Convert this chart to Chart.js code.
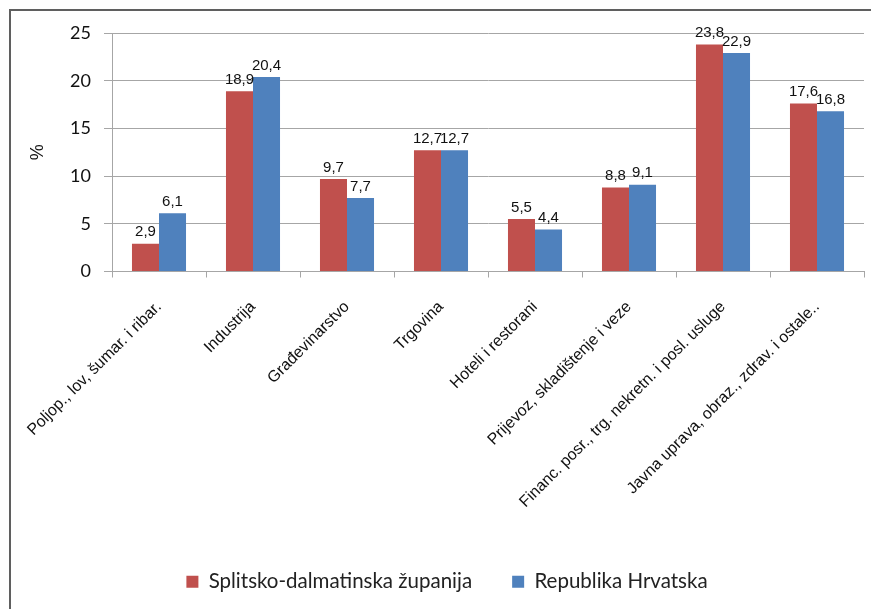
<!DOCTYPE html>
<html>
<head>
<meta charset="utf-8">
<script src="https://cdn.jsdelivr.net/npm/chart.js@4/dist/chart.umd.min.js"></script>
<style>
  body { margin: 0; background: #fff; }
  .frame { position: absolute; left: 9px; top: 9px; width: 880px; height: 620px;
           border-top: 2px solid #5f5f5f; border-left: 2px solid #5f5f5f; }
  #graf { position: absolute; left: 0; top: 0; }
</style>
</head>
<body>
<div class="frame"></div>
<canvas id="graf" width="871" height="609"></canvas>
<script>
const kategorije = ['Poljop., lov, šumar. i ribar.', 'Industrija', 'Građevinarstvo', 'Trgovina',
  'Hoteli i restorani', 'Prijevoz, skladištenje i veze', 'Financ. posr., trg. nekretn. i posl. usluge',
  'Javna uprava, obraz., zdrav. i ostale..']
const splitsko = [2.9, 18.9, 9.7, 12.7, 5.5, 8.8, 23.8, 17.6]
const hrvatska = [6.1, 20.4, 7.7, 12.7, 4.4, 9.1, 22.9, 16.8]
const yTicks = [0, 5, 10, 15, 20, 25]

const siva = '#a6a6a6'

// oznake vrijednosti iznad stupaca
const oznake = {
  id: 'oznake',
  afterDatasetsDraw(chart) {
    const ctx = chart.ctx
    ctx.save()
    ctx.font = '15px "Liberation Sans", Arial'
    ctx.fillStyle = '#111'
    ctx.textAlign = 'center'
    ctx.textBaseline = 'bottom'
    chart.data.datasets.forEach((ds, i) => {
      chart.getDatasetMeta(i).data.forEach((bar, j) => {
        ctx.fillText(ds.data[j].toFixed(1).replace('.', ','), bar.x, bar.y - 4)
      })
    })
    ctx.restore()
  }
}

new Chart(document.getElementById('graf'), {
  type: 'bar',
  data: {
    labels: kategorije,
    datasets: [{
      label: 'Splitsko-dalmatinska županija',
      data: splitsko,
      backgroundColor: '#c0504d'
    }, {
      label: 'Republika Hrvatska',
      data: hrvatska,
      backgroundColor: '#4f81bd'
    }]
  },
  options: {
    responsive: false,
    animation: false,
    categoryPercentage: 0.575,
    barPercentage: 1,
    layout: { padding: { left: 30, right: 7, top: 33, bottom: 7 } },
    plugins: {
      tooltip: { enabled: false },
      legend: {
        position: 'bottom',
        labels: {
          boxWidth: 12,
          boxHeight: 12,
          padding: 40,
          color: '#222',
          font: { family: 'Lato', size: 20.5 }
        }
      }
    },
    scales: {
      x: {
        grid: { drawOnChartArea: false, drawTicks: true, tickLength: 6, color: siva },
        border: { color: siva },
        ticks: {
          minRotation: 45, maxRotation: 45, autoSkip: false, padding: 20,
          color: '#111',
          font: { family: 'Liberation Sans', size: 16 }
        },
        afterFit: s => { s.height = 260 }
      },
      y: {
        min: 0, max: 25,
        afterBuildTicks: s => { s.ticks = yTicks.map(v => ({ value: v })) },
        grid: { color: siva, tickLength: 8 },
        border: { color: siva },
        ticks: { padding: 13, color: '#111', font: { family: 'Lato', size: 18 } },
        title: {
          display: true, text: '%', color: '#111',
          font: { family: 'Liberation Sans', size: 18 },
          padding: { top: -3, bottom: 0 }
        },
        afterFit: s => { s.width = 82 }
      }
    }
  },
  plugins: [oznake]
})
</script>
</body>
</html>
